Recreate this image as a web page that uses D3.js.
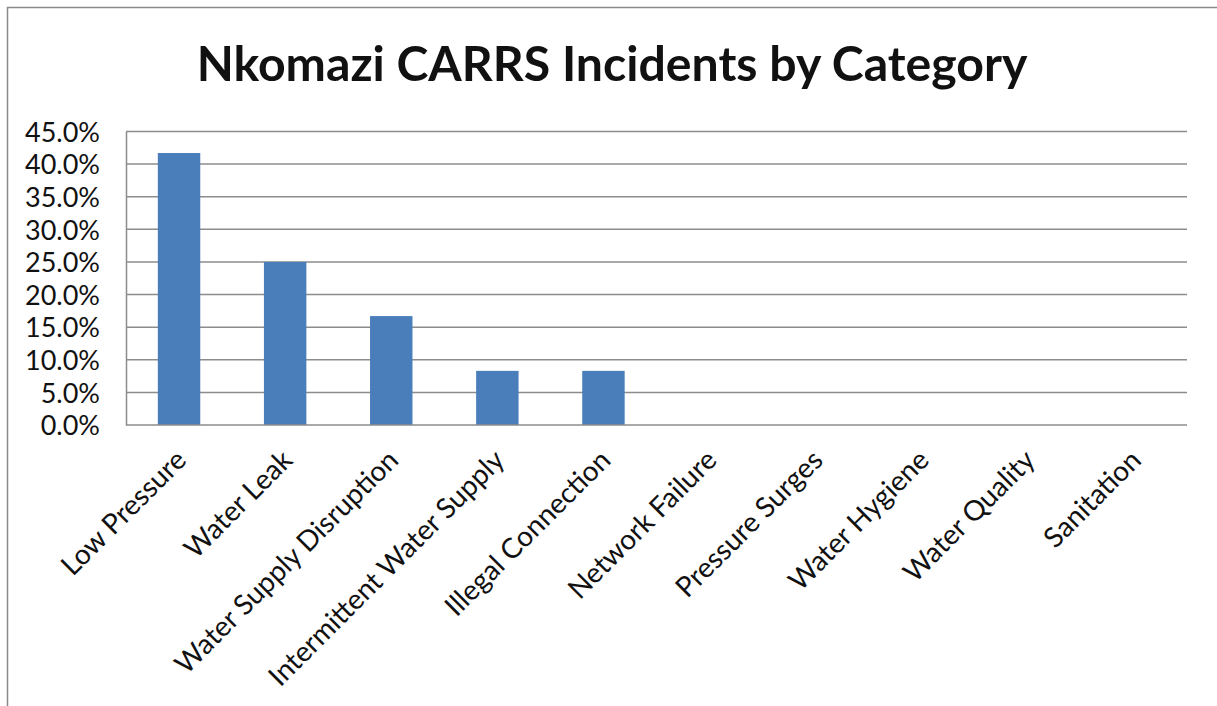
<!DOCTYPE html>
<html>
<head>
<meta charset="utf-8">
<script src="https://cdn.jsdelivr.net/npm/d3@7"></script>
<style>
  body { margin: 0; background: #fff; }
  text { font-family: Lato, "Liberation Sans", Arial, sans-serif; fill: #111; }
</style>
</head>
<body>
<div id="chart"></div>
<script>
// data
var categories = ["Low Pressure", "Water Leak", "Water Supply Disruption",
  "Intermittent Water Supply", "Illegal Connection", "Network Failure",
  "Pressure Surges", "Water Hygiene", "Water Quality", "Sanitation"];
var shares = [0.417, 0.25, 0.167, 0.083, 0.083, 0, 0, 0, 0, 0];
var yTicks = [0, 0.05, 0.10, 0.15, 0.20, 0.25, 0.30, 0.35, 0.40, 0.45];

// svg setup
var svgWidth = 1217;
var svgHeight = 706;
var margin = { top: 131.5, right: 30, bottom: 281, left: 126 };
var width = svgWidth - margin.left - margin.right;
var height = svgHeight - margin.top - margin.bottom;

var svg = d3.select("#chart")
  .append("svg")
  .attr("width", svgWidth)
  .attr("height", svgHeight);

// outer chart border (only top and left show in the frame)
svg.append("rect")
  .attr("x", 7.5)
  .attr("y", 7.5)
  .attr("width", 1240)
  .attr("height", 740)
  .attr("fill", "none")
  .attr("stroke", "#8a8a8a")
  .attr("stroke-width", 1.5);

var title = svg.append("text")
  .attr("x", 612)
  .attr("y", 81)
  .attr("text-anchor", "middle")
  .style("font-size", "46px")
  .style("font-weight", "bold")
  .text("Nkomazi CARRS Incidents by Category");

// fit title to the width it takes in the original
var tLen = title.node().getComputedTextLength();
title.style("font-size", (46 * 831 / tLen) + "px");

var chartGroup = svg.append("g")
  .attr("transform", `translate(${margin.left}, ${margin.top})`);

// scales
var xBand = d3.scaleBand()
  .domain(categories)
  .range([0, width]);

var yScale = d3.scaleLinear()
  .domain([0, 0.45])
  .range([height, 0]);

// gridlines
chartGroup.append("g")
  .selectAll("line")
  .data(yTicks.slice(1))
  .enter()
  .append("line")
  .attr("x1", 0)
  .attr("x2", width)
  .attr("y1", d => yScale(d))
  .attr("y2", d => yScale(d))
  .attr("stroke", "#8c8c8c")
  .attr("stroke-width", 1.5);

// bars
chartGroup.selectAll("rect.bar")
  .data(categories)
  .enter()
  .append("rect")
  .attr("class", "bar")
  .attr("x", d => xBand(d) + xBand.bandwidth() * 0.3)
  .attr("width", xBand.bandwidth() * 0.4)
  .attr("y", (d, i) => yScale(shares[i]))
  .attr("height", (d, i) => height - yScale(shares[i]))
  .attr("fill", "#4a7ebb");

// y axis
var leftAxis = d3.axisLeft(yScale)
  .tickValues(yTicks)
  .tickFormat(d3.format(".1%"))
  .tickSize(0)
  .tickPadding(26);

var yAxis = chartGroup.append("g").call(leftAxis);
yAxis.select(".domain").attr("stroke", "#8c8c8c").attr("stroke-width", 1.5);
yAxis.selectAll("text")
  .style("font-size", "27px")
  .style("font-family", "Lato, 'Liberation Sans', Arial, sans-serif")
  .attr("fill", "#111")
  .attr("dy", "0.36em");

// x axis line
chartGroup.append("line")
  .attr("x1", 0)
  .attr("x2", width)
  .attr("y1", height)
  .attr("y2", height)
  .attr("stroke", "#8c8c8c")
  .attr("stroke-width", 1.5);

// x labels
chartGroup.append("g")
  .selectAll("text")
  .data(categories)
  .enter()
  .append("text")
  .attr("text-anchor", "end")
  .attr("transform", d => `translate(${xBand(d) + xBand.bandwidth() / 2 - 5}, ${height + 23}) rotate(-45)`)
  .attr("dy", "0.7em")
  .style("font-size", "28px")
  .text(d => d);
</script>
</body>
</html>
